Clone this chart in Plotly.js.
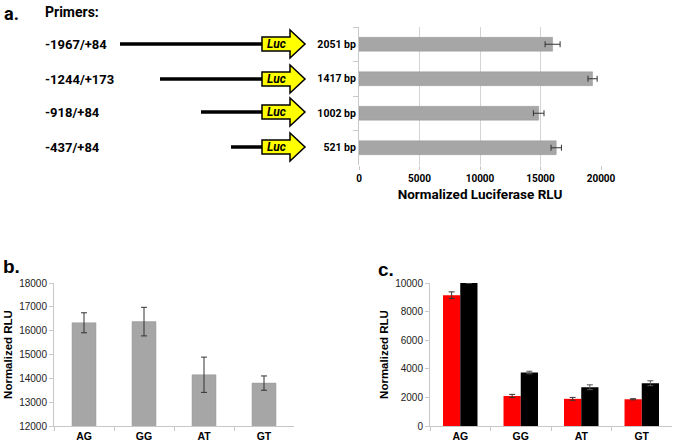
<!DOCTYPE html>
<html>
<head>
<meta charset="utf-8">
<script src="https://cdn.plot.ly/plotly-3.0.1.min.js"></script>
<style>html,body{margin:0;padding:0;background:#fff;}#chart{width:675px;height:444px;}</style>
</head>
<body>
<div id="chart"></div>
<script>
// ---- Data ----
const primerLabels = ["-1967/+84", "-1244/+173", "-918/+84", "-437/+84"];
const constructSizes = ["2051 bp", "1417 bp", "1002 bp", "521 bp"];
const luciferaseRLU = [16000, 19300, 14850, 16300];
const luciferaseErr = [620, 380, 440, 430];

const genotypes = ["AG", "GG", "AT", "GT"];
const rluB = [16330, 16380, 14150, 13800];
const rluBErr = [420, 600, 740, 300];

const rluCRed = [9150, 2100, 1900, 1870];
const rluCRedErr = [230, 110, 100, 40];
const rluCBlack = [10000, 3740, 2710, 2990];
const rluCBlackErr = [0, 90, 170, 170];

// ---- Layout helpers (pixel -> paper) ----
const W = 675, H = 444;
const px = x => x / W;
const py = y => 1 - y / H;

// diagram geometry for panel a (layout only)
const rowY = [44, 79, 112, 147];
const lineStartX = [120, 160, 201, 231];
const bodyL = 262, bodyR = 290, tipX = 305, bh = 7, hh = 14;

const fA = 'Roboto';
const shapes = [];
const annotations = [];
rowY.forEach((cy, i) => {
  shapes.push({type: 'line', xref: 'paper', yref: 'paper',
    x0: px(lineStartX[i]), x1: px(bodyL), y0: py(cy), y1: py(cy),
    line: {color: '#000', width: 3.5}});
  const pts = [[bodyL, cy - bh], [bodyR, cy - bh], [bodyR, cy - hh], [tipX, cy],
               [bodyR, cy + hh], [bodyR, cy + bh], [bodyL, cy + bh]];
  const path = 'M' + pts.map(p => px(p[0]).toFixed(5) + ',' + py(p[1]).toFixed(5)).join(' L') + ' Z';
  shapes.push({type: 'path', xref: 'paper', yref: 'paper', path: path,
    fillcolor: '#ffff00', line: {color: '#000', width: 1.5}});
  annotations.push({xref: 'paper', yref: 'paper', x: px(276), y: py(cy), text: '<i><b>Luc</b></i>',
    showarrow: false, xanchor: 'center', yanchor: 'middle',
    font: {family: fA, size: 12, color: '#000'}});
  annotations.push({xref: 'paper', yref: 'paper', x: px(43), y: py(cy + 1), text: primerLabels[i],
    showarrow: false, xanchor: 'left', yanchor: 'middle',
    font: {family: fA, size: 13, color: '#000', weight: 'bold'}});
});
annotations.push({xref: 'paper', yref: 'paper', x: px(2), y: py(13), text: 'a.', showarrow: false,
  xanchor: 'left', yanchor: 'middle', font: {family: fA, size: 18, color: '#000', weight: 'bold'}});
annotations.push({xref: 'paper', yref: 'paper', x: px(43), y: py(12), text: 'Primers:', showarrow: false,
  xanchor: 'left', yanchor: 'middle', font: {family: fA, size: 14, color: '#000', weight: 'bold'}});
annotations.push({xref: 'paper', yref: 'paper', x: px(1), y: py(266), text: 'b.', showarrow: false,
  xanchor: 'left', yanchor: 'middle', font: {family: 'Liberation Sans', size: 19, color: '#000', weight: 'bold'}});
annotations.push({xref: 'paper', yref: 'paper', x: px(376), y: py(269), text: 'c.', showarrow: false,
  xanchor: 'left', yanchor: 'middle', font: {family: 'Liberation Sans', size: 19, color: '#000', weight: 'bold'}});

const barGray = '#a6a6a6';
const errColor = '#333333';
const cWidth = 0.285;

const traces = [
  {type: 'bar', orientation: 'h', x: luciferaseRLU, y: constructSizes, xaxis: 'x', yaxis: 'y',
   marker: {color: barGray, line: {color: '#999', width: 0.5}},
   error_x: {type: 'data', array: luciferaseErr, color: errColor, thickness: 1, width: 3}},
  {type: 'bar', x: genotypes, y: rluB, xaxis: 'x2', yaxis: 'y2',
   marker: {color: barGray, line: {color: '#999', width: 0.5}},
   error_y: {type: 'data', array: rluBErr, color: errColor, thickness: 1, width: 3}},
  {type: 'bar', x: genotypes, y: rluCRed, xaxis: 'x3', yaxis: 'y3',
   width: cWidth, offset: -cWidth,
   marker: {color: '#ff0000'},
   error_y: {type: 'data', array: rluCRedErr, color: errColor, thickness: 1, width: 3}},
  {type: 'bar', x: genotypes, y: rluCBlack, xaxis: 'x3', yaxis: 'y3',
   width: cWidth, offset: 0,
   marker: {color: '#000000'},
   error_y: {type: 'data', array: rluCBlackErr, color: '#555', thickness: 1, width: 3}}
];

const tickFontBold = {family: 'Liberation Sans', size: 10.5, color: '#000', weight: 'bold'};
const tickFontNum = {family: 'Liberation Sans', size: 10, color: '#222'};
const yTitleFont = {family: 'Liberation Sans', size: 11.5, color: '#000', weight: 'bold'};

const layout = {
  width: W, height: H,
  margin: {l: 0, r: 0, t: 0, b: 0},
  paper_bgcolor: '#fff', plot_bgcolor: 'rgba(0,0,0,0)',
  showlegend: false,
  barmode: 'overlay',
  bargap: 0.6,
  xaxis: {domain: [px(359), px(601)], anchor: 'y', range: [0, 20000], dtick: 5000, tickformat: 'd',
    showgrid: true, gridcolor: '#d4d4d4', gridwidth: 1, zeroline: false, showline: false,
    ticks: 'outside', ticklen: 4, tickcolor: '#c8c8c8',
    tickfont: {family: fA, size: 10, color: '#000', weight: 'bold'},
    title: {text: 'Normalized Luciferase RLU', standoff: 6,
      font: {family: fA, size: 13.5, color: '#000', weight: 'bold'}}},
  yaxis: {domain: [py(165), py(27)], anchor: 'x', type: 'category', autorange: 'reversed',
    showline: true, linecolor: '#c8c8c8', linewidth: 1, showgrid: false, zeroline: false,
    ticks: 'outside', tickson: 'boundaries', ticklen: 5, tickcolor: '#c8c8c8',
    tickfont: {family: fA, size: 10.5, color: '#000', weight: 'bold'}},
  xaxis2: {domain: [px(54), px(294)], anchor: 'y2', type: 'category',
    showline: true, linecolor: '#c8c8c8', showgrid: false, zeroline: false,
    ticks: 'outside', tickson: 'boundaries', ticklen: 4, tickcolor: '#c8c8c8',
    tickfont: tickFontBold},
  yaxis2: {domain: [py(426), py(283)], anchor: 'x2', range: [12000, 18000], dtick: 1000, tickformat: 'd',
    showline: true, linecolor: '#c8c8c8', showgrid: false, zeroline: false,
    ticks: 'outside', ticklen: 4, tickcolor: '#c8c8c8', tickfont: tickFontNum,
    title: {text: 'Normalized RLU', standoff: 4, font: yTitleFont}},
  xaxis3: {domain: [px(430), px(672)], anchor: 'y3', type: 'category',
    showline: true, linecolor: '#c8c8c8', showgrid: false, zeroline: false,
    ticks: 'outside', tickson: 'boundaries', ticklen: 4, tickcolor: '#c8c8c8',
    tickfont: tickFontBold},
  yaxis3: {domain: [py(426), py(283)], anchor: 'x3', range: [0, 10000], dtick: 2000, tickformat: 'd',
    showline: true, linecolor: '#c8c8c8', showgrid: false, zeroline: false,
    ticks: 'outside', ticklen: 4, tickcolor: '#c8c8c8', tickfont: tickFontNum,
    title: {text: 'Normalized RLU', standoff: 4, font: yTitleFont}},
  shapes: shapes,
  annotations: annotations
};

Plotly.newPlot('chart', traces, layout, {staticPlot: true, displayModeBar: false});
</script>
</body>
</html>
